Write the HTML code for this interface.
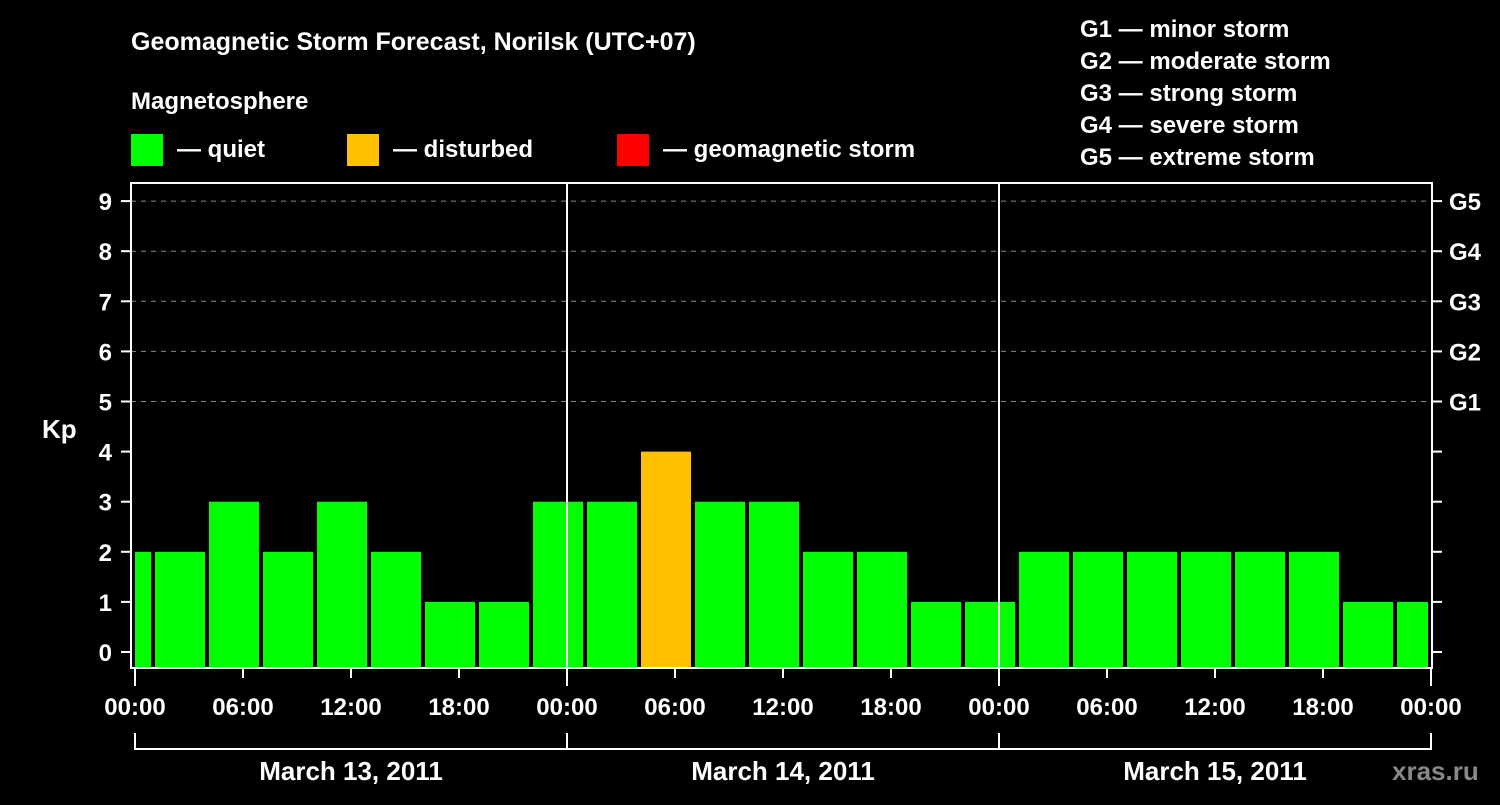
<!DOCTYPE html>
<html><head><meta charset="utf-8"><style>
body{margin:0;background:#000;width:1500px;height:800px;overflow:hidden}
svg{font-family:"Liberation Sans",Arial,sans-serif;font-weight:bold}
</style></head><body>
<svg id="chart" width="1500" height="800">
<text x="131" y="50" fill="#fff" font-size="25">Geomagnetic Storm Forecast, Norilsk (UTC+07)</text>
<text x="131" y="109" fill="#fff" font-size="24">Magnetosphere</text>
<g><rect x="131" y="134" width="32" height="32" fill="#00ff00"/><text x="177" y="157" fill="#fff" font-size="24">— quiet</text></g>
<g><rect x="347" y="134" width="32" height="32" fill="#ffc000"/><text x="393" y="157" fill="#fff" font-size="24">— disturbed</text></g>
<g><rect x="617" y="134" width="32" height="32" fill="#ff0000"/><text x="663" y="157" fill="#fff" font-size="24">— geomagnetic storm</text></g>
<g fill="#fff" font-size="24">
<text x="1080" y="37">G1 — minor storm</text><text x="1080" y="69">G2 — moderate storm</text><text x="1080" y="101">G3 — strong storm</text><text x="1080" y="133">G4 — severe storm</text><text x="1080" y="165">G5 — extreme storm</text></g>
<text x="42" y="438" fill="#fff" font-size="26">Kp</text>
<text x="1392" y="780" fill="#888" font-size="26">xras.ru</text>
<g id="plot"></g>
</svg>
<script>
const startHours=[-2,1,4,7,10,13,16,19,22,25,28,31,34,37,40,43,46,49,52,55,58,61,64,67,70];
const kpValues=[2,2,3,2,3,2,1,1,3,3,4,3,3,2,2,1,1,2,2,2,2,2,2,1,1];
const xTickLabels=["00:00","06:00","12:00","18:00","00:00","06:00","12:00","18:00","00:00","06:00","12:00","18:00","00:00"];
const dayLabels=["March 13, 2011","March 14, 2011","March 15, 2011"];
const gLabels=["G1","G2","G3","G4","G5"];
const NS="http://www.w3.org/2000/svg";
const g=document.getElementById('plot');
const X0=131,X1=1432,Y0=183,Y1=668;
const xH=h=>135+18*h;
const yK=k=>652-50.1*k;
function el(t,a){const e=document.createElementNS(NS,t);for(const k in a)e.setAttribute(k,a[k]);g.appendChild(e);return e;}
// grid
for(let k=5;k<=9;k++){const l=el('line',{x1:X0,x2:X1,y1:yK(k),y2:yK(k),stroke:'#888','stroke-dasharray':'5,5','stroke-width':1});

}
// bars
startHours.forEach((h,i)=>{const v=kpValues[i];let a=xH(h)+2,b=xH(h+3)-2;a=Math.max(a,X0+4);b=Math.min(b,X1-4);
const r=el('rect',{x:a,y:yK(v),width:b-a,height:X1?(Y1-yK(v)):0,fill:v>=5?'#ff0000':(v>=4?'#ffc000':'#00ff00')});

});
// day separators
for(let d=1;d<3;d++){const l=el('line',{x1:xH(24*d),x2:xH(24*d),y1:Y0,y2:Y1,stroke:'#fff','stroke-width':2});

}
// frame
const f=el('rect',{x:X0,y:Y0,width:X1-X0,height:Y1-Y0,fill:'none',stroke:'#fff','stroke-width':2});


// y ticks
for(let k=0;k<=9;k++){const y=yK(k);
el('line',{x1:X0-10,x2:X0,y1:y,y2:y,stroke:'#fff','stroke-width':2});
el('line',{x1:X1,x2:X1+10,y1:y,y2:y,stroke:'#fff','stroke-width':2});
const t=el('text',{x:112,y:y+9,fill:'#fff','font-size':24,'text-anchor':'end'});t.textContent=k;


if(k>=5){const gt=el('text',{x:1449,y:y+9,fill:'#fff','font-size':24});gt.textContent=gLabels[k-5];

}}
// x ticks
xTickLabels.forEach((s,i)=>{const x=xH(6*i);
el('line',{x1:x,x2:x,y1:Y1,y2:Y1+(i%4==0?18:10),stroke:'#fff','stroke-width':2});
const t=el('text',{x:x,y:715,fill:'#fff','font-size':24,'text-anchor':'middle'});t.textContent=s;

});
// day brackets
el('line',{x1:xH(0),x2:xH(72),y1:749,y2:749,stroke:'#fff','stroke-width':2});
for(let d=0;d<=3;d++)el('line',{x1:xH(24*d),x2:xH(24*d),y1:733,y2:750,stroke:'#fff','stroke-width':2});
dayLabels.forEach((s,d)=>{const t=el('text',{x:xH(24*d+12),y:780,fill:'#fff','font-size':26,'text-anchor':'middle'});t.textContent=s;

});
</script>
</body></html>
